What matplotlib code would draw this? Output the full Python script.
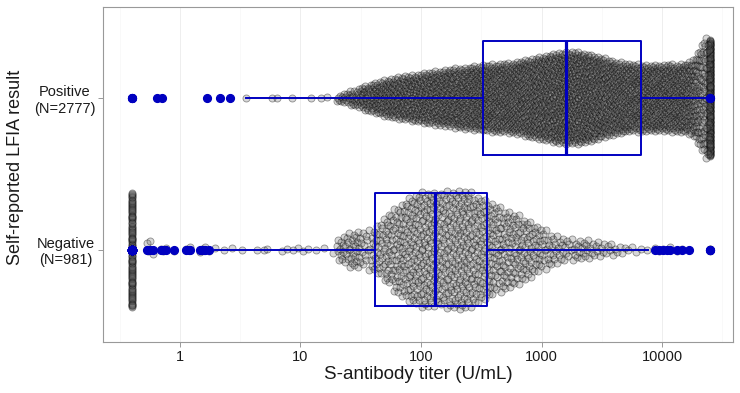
import numpy as np
import matplotlib
matplotlib.use('Agg')
import matplotlib.pyplot as plt
from matplotlib.ticker import FixedLocator, NullFormatter

plt.rcParams['font.family'] = ['Liberation Sans', 'DejaVu Sans']

# ---- data (titer in U/mL) ----
groups = ['Negative', 'Positive']
group_n = [981, 2777]

# histogram of the body of each swarm, log10 bins of width 0.1 (lower edges)
pos_bin_lo = np.round(np.arange(1.3, 4.35, 0.1), 1)
pos_counts = [13, 22, 35, 45, 53, 58, 63, 68, 73, 78, 81, 86, 89, 91, 94, 99,
              107, 114, 122, 124, 122, 112, 102, 94, 89, 89, 89, 89, 91, 91, 91]
pos_single = [0.4, 0.4, 0.4, 0.64, 0.71, 1.67, 2.15, 2.6, 3.5, 5.8, 6.4, 8.5,
              12.2, 14.8, 16.6]
pos_at_max = 188          # results reported as 25000

neg_bin_lo = np.round(np.arange(1.3, 3.85, 0.1), 1)
neg_counts = [17, 23, 16, 28, 41, 52, 60, 64, 59, 62, 67, 59, 52, 45, 41, 35,
              27, 19, 14, 11, 12, 9, 7, 5, 3, 2]
neg_single = [0.53, 0.54, 0.56, 0.60, 0.70, 0.72, 0.77, 0.89, 1.12, 1.18, 1.21,
              1.47, 1.52, 1.58, 1.62, 1.74,
              1.95, 2.3, 2.7, 3.3, 4.4, 5.0, 5.3, 7.0, 7.8, 8.6, 9.5, 10.5,
              11.5, 13.5, 15.8, 18.5,
              8700, 9500, 10200, 10900, 11600, 13400, 14600, 16700,
              25000, 25000, 25000]
neg_at_min = 108          # results reported as 0.4

# box statistics (log scale boxplot)
box_q1 = [41.5, 327]
box_med = [131, 1600]
box_q3 = [353, 6700]
box_whislo = [1.95, 3.5]
box_whishi = [7700, 25000]

BLUE = '#0000C0'


def expand(bin_lo, counts, singles, n_lo=0, n_hi=0):
    vals = [0.4] * n_lo + list(singles) + [25000] * n_hi
    for lo, n in zip(bin_lo, counts):
        vals += list(10 ** (lo + (np.arange(n) + 0.5) / n * 0.1))
    return np.array(vals)


def vdc(n, base=2):
    out = np.zeros(n)
    for i in range(n):
        k, f, v = i + 1, 1.0 / base, 0.0
        while k:
            v += f * (k % base)
            k //= base
            f /= base
        out[i] = v
    return out


def quasi_offsets(vals, width=0.4, bw=0.07):
    lx = np.log10(vals)
    dens = np.exp(-0.5 * ((lx[:, None] - lx[None, :]) / bw) ** 2).sum(1)
    dens = dens / dens.max()
    order = np.argsort(lx, kind='stable')
    ranks = np.empty(len(lx), int)
    ranks[order] = np.arange(len(lx))
    return (vdc(len(lx))[ranks] - 0.5) * 2 * width * dens


data = [expand(neg_bin_lo, neg_counts, neg_single, n_lo=neg_at_min),
        expand(pos_bin_lo, pos_counts, pos_single, n_hi=pos_at_max)]

fig = plt.figure(figsize=(7.4, 3.93), dpi=100)
ax = fig.add_axes([103 / 740, 51 / 393, 630 / 740, 335 / 393])

for i, vals in enumerate(data):
    ax.scatter(vals, i + quasi_offsets(vals), s=26,
               facecolor=(0.38, 0.38, 0.38, 0.25),
               edgecolor=(0, 0, 0, 0.4), linewidths=0.6, zorder=2)

stats = []
for i, vals in enumerate(data):
    fl = vals[(vals < box_whislo[i]) | (vals > box_whishi[i])]
    stats.append(dict(med=box_med[i], q1=box_q1[i], q3=box_q3[i],
                      whislo=box_whislo[i], whishi=box_whishi[i], fliers=fl))

ax.bxp(stats, positions=[0, 1], widths=0.75, orientation='horizontal',
       showcaps=False, manage_ticks=False,
       boxprops=dict(color=BLUE, lw=1.4),
       whiskerprops=dict(color=BLUE, lw=1.4),
       medianprops=dict(color=BLUE, lw=2.3),
       flierprops=dict(marker='o', markerfacecolor=BLUE, markeredgecolor=BLUE,
                       markersize=5.6, linestyle='none'))
for art in ax.lines:
    art.set_zorder(3)

ax.set_xscale('log')
ax.set_xlim(0.23, 38800)
ax.set_xticks([1, 10, 100, 1000, 10000])
ax.set_xticklabels(['1', '10', '100', '1000', '10000'])
ax.xaxis.set_minor_locator(FixedLocator([10 ** (k + 0.5) for k in range(-1, 5)]))
ax.xaxis.set_minor_formatter(NullFormatter())
ax.tick_params(axis='x', which='minor', length=0)
ax.grid(True, axis='x', which='major', color='#ebebeb', lw=0.6, zorder=0)
ax.grid(True, axis='x', which='minor', color='#f5f5f5', lw=0.4, zorder=0)
ax.set_axisbelow(True)

ax.set_ylim(-0.61, 1.60)
ax.set_yticks([0, 1])
ax.set_yticklabels([f'{g}\n(N={n})' for g, n in zip(groups, group_n)],
                   multialignment='center')

ax.tick_params(axis='both', which='major', length=3.5, width=0.7,
               color='#999999', labelsize=10.5, labelcolor='#1a1a1a', pad=2)
for sp in ax.spines.values():
    sp.set_color('#999999')
    sp.set_linewidth(0.8)

ax.set_xlabel('S-antibody titer (U/mL)', fontsize=13.5, color='#1a1a1a', labelpad=2)
ax.set_ylabel('Self-reported LFIA result', fontsize=13, color='#1a1a1a')
ax.yaxis.set_label_coords(-0.125, 0.52)

fig.savefig('out.png', dpi=100)
